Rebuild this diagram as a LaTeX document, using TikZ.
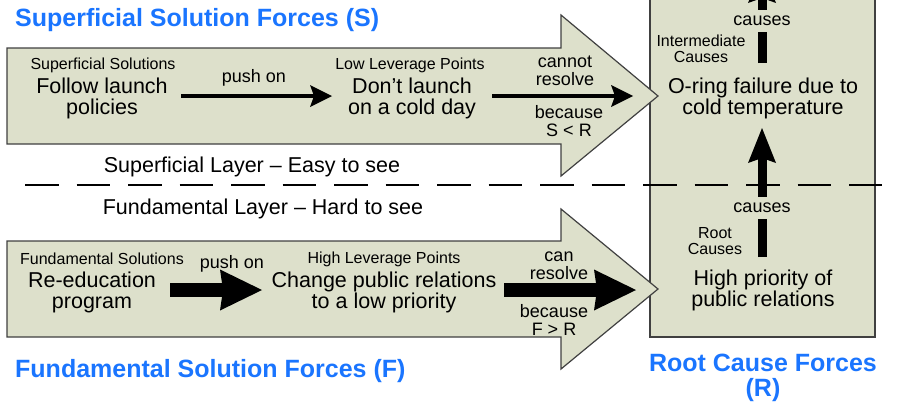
\documentclass[tikz,border=0pt]{standalone}
\usepackage{fontspec}
\setmainfont{Liberation Sans}
\usetikzlibrary{arrows.meta}
\definecolor{panel}{RGB}{221,224,203}
\definecolor{edge}{RGB}{64,64,64}
\definecolor{forceblue}{RGB}{26,117,255}

\begin{document}
\begin{tikzpicture}[x=1pt,y=-1pt,
  every node/.style={inner sep=0pt, align=center},
  big/.style={font=\fontsize{21.5}{21}\selectfont},
  small/.style={font=\fontsize{16}{16}\selectfont},
  lbl/.style={font=\fontsize{18}{18}\selectfont},
  forcetitle/.style={font=\fontsize{25}{25}\selectfont\bfseries, text=forceblue},
  panelshape/.style={fill=panel, draw=edge, line width=1.2pt, line join=miter},
  thinarrow/.style={line width=4pt, -{Stealth[length=22pt,width=22pt,inset=4pt,line width=0pt]}},
  fatarrow/.style={line width=14pt, -{Stealth[length=42pt,width=41pt,inset=3pt,line width=0pt]}},
  uparrow/.style={line width=9pt, -{Stealth[length=35pt,width=28pt,inset=5pt,line width=0pt]}},
  layerline/.style={line width=2pt, dash pattern=on 33.5pt off 18pt},
  gap/.style={fill=panel, minimum height=22pt, inner xsep=2pt}
]
\useasboundingbox (0,0) rectangle (909,405);
\clip (0,0) rectangle (909,405);

% root cause panel (runs off the top edge)
\draw[panelshape] (650,-20) rectangle (875,337);

% the two solution block arrows
\draw[panelshape] (7,48) -- (561,48) -- (561,15) -- (658,96) -- (561,176) -- (561,144) -- (7,144) -- cycle;
\draw[panelshape] (7,241) -- (561,241) -- (561,209) -- (658,289) -- (561,369) -- (561,337) -- (7,337) -- cycle;

% boundary between the layers
\draw[layerline] (25,185) -- (882,185);

% titles
\node[forcetitle, anchor=base west] (tS) at (15,26.7) {Superficial Solution Forces (S)};
\node[forcetitle, anchor=base west] (tF) at (15,377) {Fundamental Solution Forces (F)};
\node[forcetitle] (tR) at (763,378) {Root Cause Forces\\(R)};

% layer captions
\node[big] (layS) at (252,167) {Superficial Layer – Easy to see};
\node[big] (layF) at (263,209) {Fundamental Layer – Hard to see};

% superficial row
\node[small] (ssHead) at (103,65) {Superficial Solutions};
\node[big] (ss) at (102,98) {Follow launch\\policies};
\node[small] (llHead) at (410,65) {Low Leverage Points};
\node[big] (ll) at (412,98) {Don’t launch\\on a cold day};
\coordinate (ssOut) at (181,96);
\coordinate (llIn) at (332,96);
\coordinate (llOut) at (492,96);
\coordinate (icIn) at (633,96);
\draw[thinarrow] (ssOut) -- (llIn);
\draw[thinarrow] (llOut) -- (icIn);
\node[lbl] (pushS) at (254,78) {push on};
\node[lbl] (cannot) at (565,71) {cannot\\resolve};
\node[lbl] (becS) at (569,121) {because\\S < R};

% fundamental row
\node[small] (fsHead) at (102,259) {Fundamental Solutions};
\node[big] (fs) at (92,292) {Re-education\\program};
\node[small] (hlHead) at (384,259) {High Leverage Points};
\node[big] (hl) at (384,292) {Change public relations\\to a low priority};
\coordinate (fsOut) at (170,290);
\coordinate (hlIn) at (262,290);
\coordinate (hlOut) at (504,290);
\coordinate (rcIn) at (636,290);
\draw[fatarrow] (fsOut) -- (hlIn);
\draw[fatarrow] (hlOut) -- (rcIn);
\node[lbl] (pushF) at (232,264) {push on};
\node[lbl] (can) at (559,266) {can\\resolve};
\node[lbl] (becF) at (554,320) {because\\F > R};

% causal chain inside the panel
\node[big] (ic) at (763,98) {O-ring failure due to\\cold temperature};
\node[small] (icHead) at (701,49) {Intermediate\\Causes};
\node[big] (rc) at (763,290) {High priority of\\public relations};
\node[small] (rcHead) at (715,241) {Root\\Causes};
\coordinate (rcUp) at (762,257);
\coordinate (icDown) at (762,128);
\coordinate (icUp) at (762,63);
\coordinate (beyond) at (762,-32);
\draw[uparrow] (rcUp) -- (icDown);
\draw[uparrow] (icUp) -- (beyond);
\node[lbl, gap] (cause1) at (762,207.5) {causes};
\node[lbl, gap] (cause2) at (762,20.5) {causes};
\end{tikzpicture}
\end{document}
